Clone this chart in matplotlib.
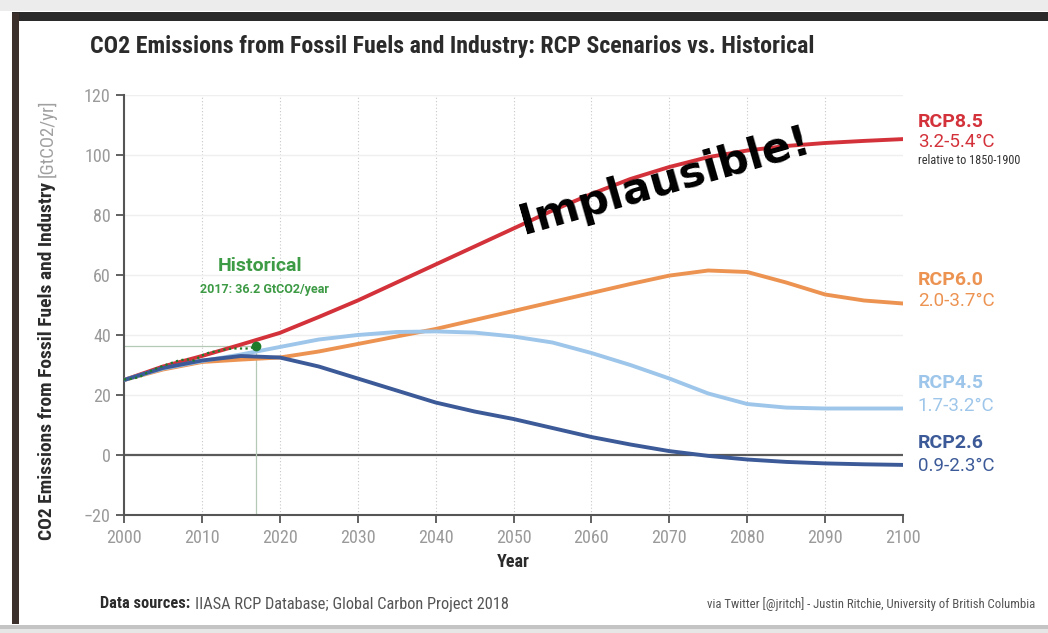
import matplotlib
matplotlib.use("Agg")
import matplotlib.pyplot as plt
from matplotlib.patches import Rectangle

# ── data ────────────────────────────────────────────────────────────────────────
years = [2000, 2005, 2010, 2015, 2020, 2025, 2030, 2035, 2040, 2045, 2050,
         2055, 2060, 2065, 2070, 2075, 2080, 2085, 2090, 2095, 2100]
rcp85 = [25.0, 29.5, 33.0, 36.8, 40.7, 46.0, 51.5, 57.5, 63.5, 69.5, 75.5,
         81.5, 87.0, 92.0, 96.0, 99.3, 101.5, 103.0, 104.0, 104.7, 105.3]
rcp60 = [25.0, 28.5, 31.0, 31.8, 32.5, 34.5, 37.0, 39.5, 42.0, 45.0, 48.0,
         51.0, 54.0, 57.0, 59.8, 61.5, 61.0, 57.5, 53.5, 51.5, 50.5]
rcp45 = [25.0, 28.8, 31.3, 33.5, 36.0, 38.5, 40.0, 41.0, 41.2, 40.8, 39.5,
         37.5, 34.0, 30.0, 25.5, 20.5, 17.0, 15.8, 15.5, 15.5, 15.5]
rcp26 = [25.0, 29.0, 31.5, 33.0, 32.5, 29.5, 25.5, 21.5, 17.5, 14.5, 12.0,
         9.0, 6.0, 3.5, 1.3, -0.3, -1.5, -2.3, -2.8, -3.1, -3.3]

hist_years = [2000, 2001, 2002, 2003, 2004, 2005, 2006, 2007, 2008,
              2009, 2010, 2011, 2012, 2013, 2014, 2015, 2016, 2017]
hist_vals = [25.2, 25.4, 26.0, 27.5, 28.7, 29.7, 30.6, 31.5, 31.9,
             31.5, 33.2, 34.2, 34.6, 35.2, 35.5, 35.5, 35.5, 36.2]

series_names = ["RCP8.5", "RCP6.0", "RCP4.5", "RCP2.6"]
series_ranges = ["3.2-5.4°C", "2.0-3.7°C", "1.7-3.2°C", "0.9-2.3°C"]

C_RED = "#d3323a"
C_ORANGE = "#ec9352"
C_LBLUE = "#9dc6ea"
C_DBLUE = "#3c5a98"
C_GREEN = "#1f7a2a"
C_GREEN_TXT = "#3d9a45"
C_TICK = "#9a9a9a"
C_DARK = "#2b2b2b"

plt.rcParams["font.family"] = ["Roboto Condensed", "Roboto", "DejaVu Sans"]

W, H = 1048, 633
fig = plt.figure(figsize=(W / 100, H / 100), dpi=100)
fig.patch.set_facecolor("white")


def fx(px):
    return px / W


def fy(py):
    return 1 - py / H


# ── screenshot frame ───────────────────────────────────────────────────────────
fig.patches.append(Rectangle((0, fy(11)), 1, fy(0) - fy(11), transform=fig.transFigure,
                             facecolor="#ececec", edgecolor="none", zorder=0))
fig.patches.append(Rectangle((fx(12), fy(21)), 1, fy(12) - fy(21), transform=fig.transFigure,
                             facecolor="#2a2a2a", edgecolor="none", zorder=0))
fig.patches.append(Rectangle((fx(12), fy(624)), fx(7), fy(13) - fy(624), transform=fig.transFigure,
                             facecolor="#3b302c", edgecolor="none", zorder=0))
fig.patches.append(Rectangle((0, 0), 1, fy(625), transform=fig.transFigure,
                             facecolor="#c4c4c4", edgecolor="none", zorder=0))
fig.patches.append(Rectangle((0, fy(633)), 1, fy(629) - fy(633), transform=fig.transFigure,
                             facecolor="#e6e6e6", edgecolor="none", zorder=0))

# ── axes ───────────────────────────────────────────────────────────────────────
ax = fig.add_axes([fx(124), fy(515), fx(903) - fx(124), fy(95) - fy(515)])
ax.set_xlim(2000, 2100)
ax.set_ylim(-20, 120)
ax.set_facecolor("none")

ax.set_xticks(range(2000, 2101, 10))
ax.set_yticks(range(-20, 121, 20))
ax.tick_params(axis="both", colors="#555555", labelcolor=C_TICK, labelsize=13,
               length=6, width=1.3)
ax.tick_params(axis="x", pad=4)
for s in ("top", "right"):
    ax.spines[s].set_visible(False)
for s in ("left", "bottom"):
    ax.spines[s].set_color("#555555")
    ax.spines[s].set_linewidth(1.5)

for x in range(2010, 2100, 10):
    ax.axvline(x, color="#c8c8c8", lw=0.8, ls=(0, (1, 2)), zorder=1)
for y in range(20, 121, 20):
    ax.axhline(y, color="#efefef", lw=1.0, zorder=1)
ax.axhline(0, color="#5a5a5a", lw=1.6, zorder=2)

# historical guides
ax.plot([2000, hist_years[-1]], [hist_vals[-1], hist_vals[-1]], color="#b5c9b7", lw=0.9, zorder=2)
ax.plot([hist_years[-1], hist_years[-1]], [-20, hist_vals[-1]], color="#b5c9b7", lw=0.9, zorder=2)

line_kw = dict(lw=2.8, solid_capstyle="round", solid_joinstyle="round")
ax.plot(years, rcp85, color=C_RED, zorder=3, **line_kw)
ax.plot(years, rcp60, color=C_ORANGE, zorder=3, **line_kw)
ax.plot(years, rcp45, color=C_LBLUE, zorder=3, **line_kw)
ax.plot(years, rcp26, color=C_DBLUE, zorder=4, **line_kw)

ax.plot(hist_years, hist_vals, color=C_GREEN, lw=1.6, ls=(0, (1, 1.5)), zorder=5)
ax.plot(hist_years[-1:], hist_vals[-1:], "o", color=C_GREEN, ms=6, zorder=6)

ax.text(2017.5, 63, "Historical", color=C_GREEN_TXT, fontsize=14, fontweight="bold",
        family=["Roboto", "DejaVu Sans"], ha="center", va="center")
ax.text(2018.0, 55.3, "2017: 36.2 GtCO2/year", color=C_GREEN_TXT, fontsize=9,
        fontweight="bold", family=["Roboto", "DejaVu Sans"], ha="center", va="center")

ax.text(2069.4, 91.2, "Implausible!", color="black", fontsize=31, fontweight="bold",
        family=["DejaVu Sans"], rotation=16, ha="center", va="center", zorder=7)

# right side labels
lab_x = 2101.9
colors = [C_RED, C_ORANGE, C_LBLUE, C_DBLUE]
name_y = [111.0, 58.3, 24.0, 4.0]
range_y = [104.3, 51.3, 16.3, -3.7]
for name, rng, c, ny, ry in zip(series_names, series_ranges, colors, name_y, range_y):
    ax.text(lab_x, ny, name, color=c, fontsize=14, fontweight="bold",
            family=["Roboto", "DejaVu Sans"], ha="left", va="center", clip_on=False)
    ax.text(lab_x, ry, rng, color=c, fontsize=13.5, family=["Roboto", "DejaVu Sans"],
            ha="left", va="center", clip_on=False)
ax.text(lab_x, 98, "relative to 1850-1900", color="#333333", fontsize=8.8,
        ha="left", va="center", clip_on=False)

# ── titles and labels ──────────────────────────────────────────────────────────
fig.text(fx(90), fy(47), "CO2 Emissions from Fossil Fuels and Industry: RCP Scenarios vs. Historical",
         fontsize=17.2, fontweight="bold", color=C_DARK, ha="left", va="center")
fig.text(fx(513), fy(562), "Year", fontsize=13, fontweight="bold", color=C_DARK,
         ha="center", va="center")

ylab = fig.text(fx(47), fy(540), "CO2 Emissions from Fossil Fuels and Industry",
                fontsize=14, fontweight="bold", color=C_DARK, rotation=90,
                ha="center", va="bottom")
src = fig.text(fx(100), fy(604), "Data sources:", fontsize=11.8, fontweight="bold",
               color=C_DARK, ha="left", va="center")
fig.text(fx(1035), fy(604), "via Twitter [@jritch] - Justin Ritchie, University of British Columbia",
         fontsize=9.2, color="#555555", ha="right", va="center")

fig.canvas.draw()
r = fig.canvas.get_renderer()
bb = ylab.get_window_extent(r)
fig.text(fx(47), (bb.y1 + 5) / H, "[GtCO2/yr]", fontsize=13.5, color="#a0a0a0",
         rotation=90, ha="center", va="bottom")
bb = src.get_window_extent(r)
fig.text((bb.x1 + 5) / W, fy(604), "IIASA RCP Database; Global Carbon Project 2018",
         fontsize=11.8, color="#555555", ha="left", va="center")

fig.savefig("out.png", dpi=100, facecolor="white")
